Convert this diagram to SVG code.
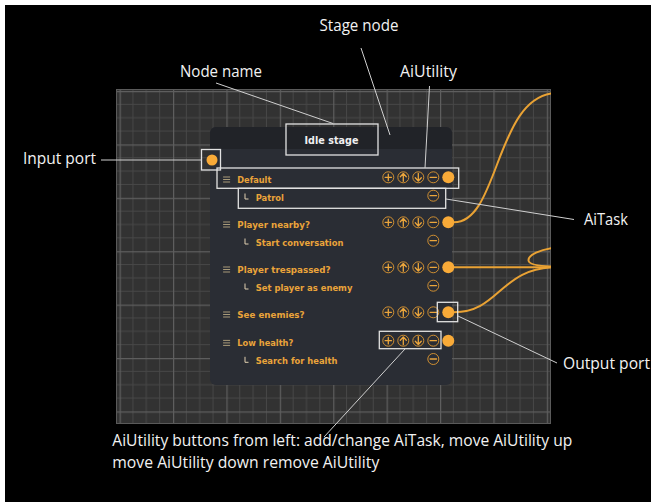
<svg xmlns="http://www.w3.org/2000/svg" width="651" height="502" viewBox="0 0 651 502">
<style>
.lbl{font-family:"Open Sans","Liberation Sans",sans-serif;font-size:15.5px;fill:#f2f2f2}
.row{font-family:"DejaVu Sans","Liberation Sans",sans-serif;font-weight:bold;font-size:9.3px;fill:#eaa43a}
.title{font-family:"DejaVu Sans","Liberation Sans",sans-serif;font-weight:bold;font-size:9.6px;fill:#f0f0f0}
.ann{stroke:#d0d0d0;stroke-width:1;fill:none}
.box{stroke:#e2e2e2;stroke-width:1.3;fill:none}
.conn{stroke:#e9a234;stroke-width:2;fill:none}
.btn{stroke:#cf8f32;stroke-width:1;fill:none}
.gl{stroke:#eca63c;stroke-width:1.3;fill:none;stroke-linecap:round;stroke-linejoin:round}
.port{fill:#f8aa38}
.menu{stroke:#a89a78;stroke-width:1}
.corner{stroke:#e0d0b0;stroke-width:1;fill:none}
</style>
<defs>
<pattern id="grid" patternUnits="userSpaceOnUse" x="119.6" y="91" width="53.4" height="53.4">
<rect width="53.4" height="53.4" fill="#323232"/>
<path d="M13.35 0V53.4M26.7 0V53.4M40.05 0V53.4M0 13.35H53.4M0 26.7H53.4M0 40.05H53.4" stroke="#474747" stroke-width="1"/>
<path d="M0.5 0V53.4M0 0.5H53.4" stroke="#5e5e5e" stroke-width="1.4"/>
</pattern>
<clipPath id="gclip"><rect x="116" y="89" width="435" height="335"/></clipPath>
<g id="bPlus"><circle class="btn" r="5.5"/><path class="gl" d="M-3.2 0H3.2M0 -3.2V3.2"/></g>
<g id="bUp"><circle class="btn" r="5.5"/><path class="gl" d="M0 4V-3.5M-3 -0.5L0 -3.8L3 -0.5"/></g>
<g id="bDown"><circle class="btn" r="5.5"/><path class="gl" d="M0 -4V3.5M-3 0.5L0 3.8L3 0.5"/></g>
<g id="bMinus"><circle class="btn" r="5.5"/><path class="gl" d="M-3.2 0H3.2"/></g>
<g id="menu"><path class="menu" d="M-3.5 -2.5H3.5M-3.5 0H3.5M-3.5 2.5H3.5"/></g>
<g id="btns"><use href="#bPlus" x="388.3"/><use href="#bUp" x="403.3"/><use href="#bDown" x="418.3"/><use href="#bMinus" x="433.3"/></g>
</defs>
<rect width="651" height="502" fill="#ffffff"/>
<rect x="5" y="5" width="646" height="497" fill="#000000"/>
<g id="canvas">
<rect x="116" y="89" width="435" height="335" fill="url(#grid)"/>
<rect x="116.5" y="89.5" width="434" height="334" fill="none" stroke="#5a5a5a" stroke-width="1"/>
</g>
<g id="connectors" clip-path="url(#gclip)">
<path class="conn" d="M454 222.3C500 222.3 495 93 558 93"/>
<path class="conn" d="M454 267.3H558"/>
<path class="conn" d="M454 312.3C500 312.3 500 267 558 267"/>
<path class="conn" d="M556 247.5C540 249.5 528 255 528.5 260.5C529 265 540 266.3 556 266.5"/>
</g>
<g id="stage-node">
<rect x="210" y="127" width="242" height="258" rx="6" fill="#2a2d34"/>
<path d="M210 149V133A6 6 0 0 1 216 127H446A6 6 0 0 1 452 133V149Z" fill="#212328"/>
<text class="title" x="331.5" y="144.3" text-anchor="middle" textLength="54" lengthAdjust="spacing">Idle stage</text>
<circle class="port" cx="212" cy="160" r="5.5"/>
</g>
<g id="util-default">
<use href="#menu" x="226.6" y="179.5"/>
<text class="row" x="237.3" y="182.6" textLength="34" lengthAdjust="spacingAndGlyphs">Default</text>
<use href="#btns" y="177.3"/>
<circle class="port" cx="448.3" cy="177.3" r="6"/>
</g>
<g id="task-patrol">
<path class="corner" d="M245 193.5V199H248.5"/>
<text class="row" x="255.7" y="201.1" textLength="28.3" lengthAdjust="spacingAndGlyphs">Patrol</text>
<use href="#bMinus" x="433.3" y="195.7"/>
</g>
<g id="util-player-nearby">
<use href="#menu" x="226.6" y="224.5"/>
<text class="row" x="237.3" y="227.6" textLength="72.7" lengthAdjust="spacingAndGlyphs">Player nearby?</text>
<use href="#btns" y="222.3"/>
<circle class="port" cx="448.3" cy="222.3" r="6"/>
</g>
<g id="task-start-conversation">
<path class="corner" d="M245 238.5V244H248.5"/>
<text class="row" x="255.7" y="246.1" textLength="87.7" lengthAdjust="spacingAndGlyphs">Start conversation</text>
<use href="#bMinus" x="433.3" y="240.7"/>
</g>
<g id="util-player-trespassed">
<use href="#menu" x="226.6" y="269.5"/>
<text class="row" x="237.3" y="272.6" textLength="93.3" lengthAdjust="spacingAndGlyphs">Player trespassed?</text>
<use href="#btns" y="267.3"/>
<circle class="port" cx="448.3" cy="267.3" r="6"/>
</g>
<g id="task-set-player-as-enemy">
<path class="corner" d="M245 283.5V289H248.5"/>
<text class="row" x="255.7" y="291.1" textLength="96.7" lengthAdjust="spacingAndGlyphs">Set player as enemy</text>
<use href="#bMinus" x="433.3" y="285.7"/>
</g>
<g id="util-see-enemies">
<use href="#menu" x="226.6" y="314.5"/>
<text class="row" x="237.3" y="317.6" textLength="67.3" lengthAdjust="spacingAndGlyphs">See enemies?</text>
<use href="#btns" y="312.3"/>
<circle class="port" cx="448.3" cy="312.3" r="6"/>
</g>
<g id="util-low-health">
<use href="#menu" x="226.6" y="342.9"/>
<text class="row" x="237.3" y="346" textLength="56" lengthAdjust="spacingAndGlyphs">Low health?</text>
<use href="#btns" y="340.7"/>
<circle class="port" cx="448.3" cy="340.7" r="6"/>
</g>
<g id="task-search-for-health">
<path class="corner" d="M245 356.8V362.3H248.5"/>
<text class="row" x="255.7" y="364.4" textLength="81.7" lengthAdjust="spacingAndGlyphs">Search for health</text>
<use href="#bMinus" x="433.3" y="359"/>
</g>
<g id="annotations">
<rect class="box" x="286" y="124" width="92" height="31"/>
<rect class="box" x="201.5" y="149.5" width="19" height="20.5"/>
<rect class="box" x="217" y="168" width="241.7" height="20.3"/>
<rect class="box" x="238.3" y="188.3" width="207.4" height="20"/>
<rect class="box" x="437.3" y="302.3" width="20.4" height="19.4"/>
<rect class="box" x="379.3" y="331.3" width="61.7" height="17.4"/>
<path class="ann" d="M101 160H201.5"/>
<path class="ann" d="M216 83L333 123.5"/>
<path class="ann" d="M361 48L390 135"/>
<path class="ann" d="M429.5 86L425 168"/>
<path class="ann" d="M446 199L574 219.5"/>
<path class="ann" d="M458 316L557 363"/>
<path class="ann" d="M405 349L324 437"/>
<text class="lbl" x="23" y="164" textLength="73" lengthAdjust="spacingAndGlyphs">Input port</text>
<text class="lbl" x="180" y="77" textLength="82" lengthAdjust="spacingAndGlyphs">Node name</text>
<text class="lbl" x="319.5" y="31" textLength="79" lengthAdjust="spacingAndGlyphs">Stage node</text>
<text class="lbl" x="400" y="77" textLength="57" lengthAdjust="spacingAndGlyphs">AiUtility</text>
<text class="lbl" x="584" y="225" textLength="44" lengthAdjust="spacingAndGlyphs">AiTask</text>
<text class="lbl" x="563" y="369" textLength="87" lengthAdjust="spacingAndGlyphs">Output port</text>
<text class="lbl" x="112.3" y="446" textLength="460" lengthAdjust="spacingAndGlyphs">AiUtility buttons from left: add/change AiTask, move AiUtility up</text>
<text class="lbl" x="112.3" y="468" textLength="267" lengthAdjust="spacingAndGlyphs">move AiUtility down remove AiUtility</text>
</g>
</svg>
